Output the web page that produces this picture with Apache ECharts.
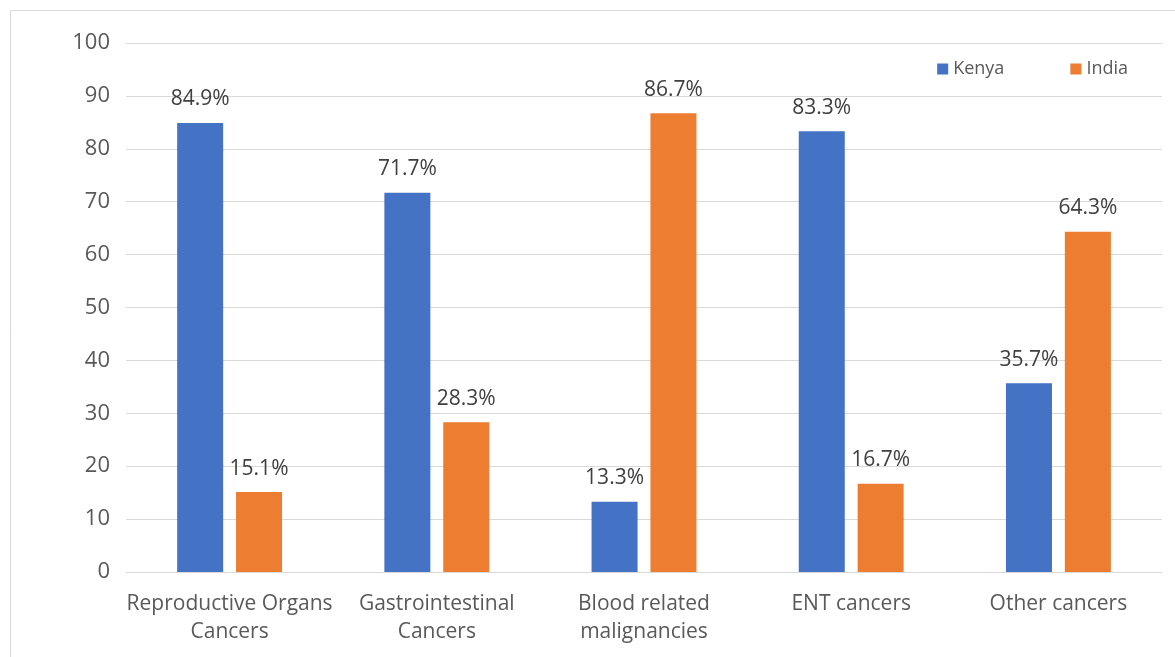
<!DOCTYPE html>
<html>
<head>
<meta charset="utf-8">
<script src="https://cdn.jsdelivr.net/npm/echarts@6/dist/echarts.min.js"></script>
<style>
  html, body { margin: 0; padding: 0; background: #fff; }
  #main { width: 1175px; height: 657px; }
</style>
</head>
<body>
<div id="main"></div>
<script>
// data
var categories = ['Reproductive Organs\nCancers', 'Gastrointestinal\nCancers', 'Blood related\nmalignancies', 'ENT cancers', 'Other cancers'];
var kenya = [84.9, 71.7, 13.3, 83.3, 35.7];
var india = [15.1, 28.3, 86.7, 16.7, 64.3];
var yTicks = {min: 0, max: 100, interval: 10};

var font = '"Open Sans", "Noto Sans", sans-serif';

var chart = echarts.init(document.getElementById('main'));

function pctLabel(p) {
    return p.value.toFixed(1) + '%';
}

chart.setOption({
    backgroundColor: '#fff',
    animation: false,
    graphic: [{
        type: 'rect',
        shape: {x: 10.5, y: 10.5, width: 1200, height: 700},
        style: {fill: 'none', stroke: '#d9d9d9', lineWidth: 1},
        silent: true
    }],
    legend: {
        right: 42,
        top: 55,
        itemWidth: 11,
        itemHeight: 11,
        itemGap: 66,
        icon: 'rect',
        textStyle: {color: '#595959', fontSize: 18, fontFamily: font},
        data: ['Kenya', 'India']
    },
    grid: {
        left: 126,
        right: 13,
        top: 43,
        bottom: 85,
        containLabel: false
    },
    xAxis: {
        type: 'category',
        data: categories,
        axisLine: {lineStyle: {color: '#d9d9d9', width: 1}},
        axisTick: {show: false},
        axisLabel: {
            color: '#595959',
            fontSize: 21,
            fontFamily: font,
            lineHeight: 28,
            margin: 18,
            interval: 0
        }
    },
    yAxis: {
        type: 'value',
        min: yTicks.min,
        max: yTicks.max,
        interval: yTicks.interval,
        axisLine: {show: false},
        axisTick: {show: false},
        splitLine: {lineStyle: {color: '#d9d9d9', width: 1}},
        axisLabel: {color: '#595959', fontSize: 22, fontFamily: font, margin: 16}
    },
    series: [{
        name: 'Kenya',
        type: 'bar',
        data: kenya,
        barWidth: 46,
        barGap: '28%',
        itemStyle: {color: '#4472C4'},
        label: {
            show: true,
            position: 'top',
            distance: 13,
            formatter: pctLabel,
            color: '#404040',
            fontSize: 21,
            fontFamily: font
        }
    }, {
        name: 'India',
        type: 'bar',
        data: india,
        barWidth: 46,
        itemStyle: {color: '#ED7D31'},
        label: {
            show: true,
            position: 'top',
            distance: 13,
            formatter: pctLabel,
            color: '#404040',
            fontSize: 21,
            fontFamily: font
        }
    }]
});
</script>
</body>
</html>
